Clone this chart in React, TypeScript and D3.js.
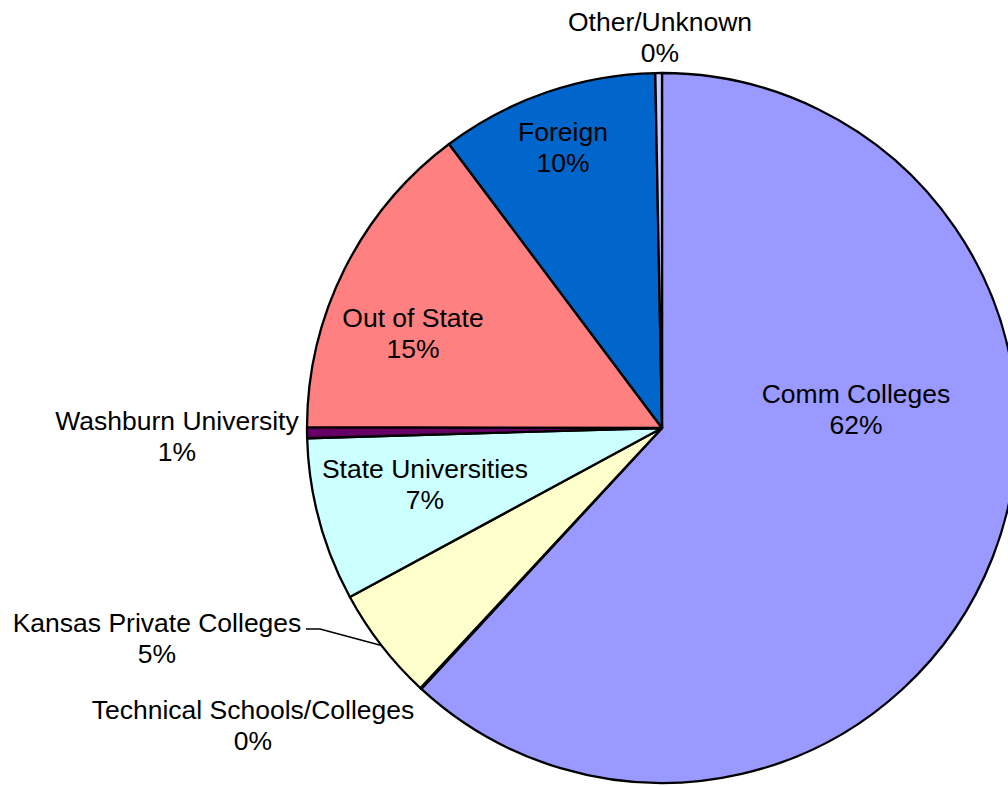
import * as d3 from "d3";

const width = 1008;
const height = 786;
const cx = 662;
const cy = 428;
const radius = 355;

const categories = [
  "Comm Colleges",
  "Technical Schools/Colleges",
  "Kansas Private Colleges",
  "State Universities",
  "Washburn University",
  "Out of State",
  "Foreign",
  "Other/Unknown",
];
const shares = [61.86, 0.05, 5.19, 7.44, 0.5, 14.72, 9.94, 0.3];
const colors = ["#9999FF", "#993366", "#FFFFCC", "#CCFFFF", "#660066", "#FF8080", "#0066CC", "#CCCCFF"];

// label anchor (centre x, first baseline y) for each slice, as Excel placed them
const labelPos: [number, number][] = [
  [856, 403],
  [253, 719],
  [157, 632],
  [425, 478],
  [177, 430],
  [413, 327],
  [563, 141],
  [660, 31],
];

const App = () => {
  const pie = d3.pie<number>().sort(null).value((d) => d);
  const arcs = pie(shares);
  const arc = d3.arc<d3.PieArcDatum<number>>().innerRadius(0).outerRadius(radius);

  // leader line for Kansas Private Colleges
  const kp = arcs[2];
  const mid = (kp.startAngle + kp.endAngle) / 2;
  const lx = cx + radius * Math.sin(mid);
  const ly = cy - radius * Math.cos(mid);
  const leader = d3.line()([
    [lx, ly],
    [320, 629],
    [306, 629],
  ]);

  return (
    <svg
      width={width}
      height={height}
      style={{ position: "absolute", left: 0, top: 0, background: "#fff" }}
      fontFamily="'Liberation Sans', Arial, sans-serif"
      fontSize={26.5}
    >
      <g transform={`translate(${cx},${cy})`}>
        {arcs.map((a, i) => (
          <path key={i} d={arc(a) || ""} fill={colors[i]} stroke="#000" strokeWidth={2.3} strokeLinejoin="round" />
        ))}
      </g>
      <path d={leader || ""} fill="none" stroke="#000" strokeWidth={1.5} />
      {categories.map((c, i) => (
        <text key={c} x={labelPos[i][0]} y={labelPos[i][1]} textAnchor="middle" fill="#000">
          <tspan x={labelPos[i][0]}>{c}</tspan>
          <tspan x={labelPos[i][0]} dy={31}>{`${Math.round(shares[i])}%`}</tspan>
        </text>
      ))}
    </svg>
  );
};

export default App;
